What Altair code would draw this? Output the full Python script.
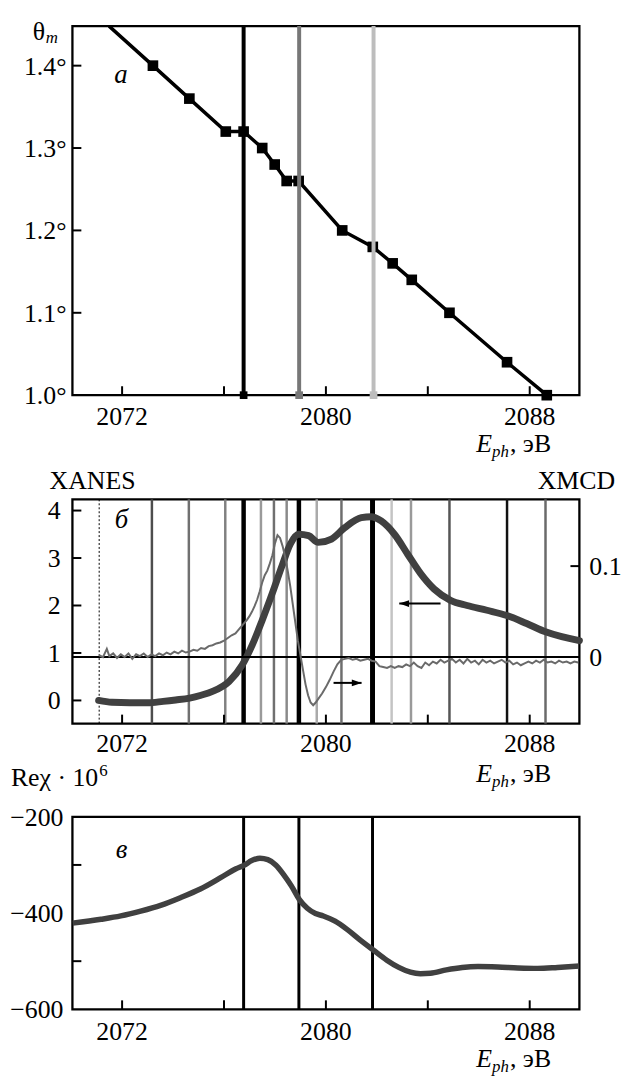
import altair as alt
import pandas as pd

FONT = "Liberation Serif, Times New Roman, Tinos, DejaVu Serif, serif"
FS = 26
W = 511
HA, HB, HC = 372, 226, 194
XDOM = [2070.05, 2089.95]

x_tick_values = [2072, 2076, 2080, 2084, 2088]
x_label_values = [2072, 2080, 2088]
x_label_text = ["2072", "2080", "2088"]

# ---------- panel a: monochromator angle ----------
theta_E = [2071.49, 2073.21, 2074.64, 2076.07, 2076.77, 2077.50, 2077.99, 2078.46,
           2078.93, 2080.64, 2081.84, 2082.62, 2083.37, 2084.85, 2087.11, 2088.67]
theta_deg = [1.448, 1.40, 1.36, 1.32, 1.32, 1.30, 1.28, 1.26,
             1.26, 1.20, 1.18, 1.16, 1.14, 1.10, 1.04, 1.00]
marker_E = theta_E[1:]
marker_deg = theta_deg[1:]
a_sel_E = [2076.77, 2078.95, 2081.87]
a_sel_color = ["#000000", "#777777", "#bdbdbd"]
a_sel_level = [1.0, 1.0, 1.0]
a_ytick_values = [1.1, 1.2, 1.3, 1.4]
a_ylabel_values = [1.0, 1.1, 1.2, 1.3, 1.4]
a_ylabel_text = ["1.0°", "1.1°", "1.2°", "1.3°", "1.4°"]

# ---------- panel b: XANES / XMCD ----------
xanes_E = [2071.08, 2071.6, 2072.31, 2073.0, 2073.61, 2074.1, 2074.65, 2075.1, 2075.55,
           2076.2, 2076.72, 2077.11, 2077.5, 2077.89, 2078.28, 2078.6, 2078.93, 2079.32,
           2079.7, 2080.22, 2080.74, 2081.39, 2081.78, 2082.17, 2082.69, 2083.21, 2083.72,
           2084.24, 2084.89, 2085.54, 2086.32, 2087.1, 2087.88, 2088.65, 2089.95]
xanes_val = [0.0, -0.04, -0.05, -0.05, -0.02, 0.01, 0.05, 0.11, 0.19,
             0.40, 0.75, 1.17, 1.69, 2.25, 2.84, 3.29, 3.50, 3.47,
             3.33, 3.40, 3.64, 3.85, 3.87, 3.78, 3.50, 3.08, 2.67,
             2.35, 2.11, 2.00, 1.90, 1.79, 1.62, 1.44, 1.26]

xmcd_E = [2071.10, 2071.25, 2071.40, 2071.50, 2071.65, 2071.80, 2071.95, 2072.10, 2072.25,
          2072.40, 2072.55, 2072.70, 2072.85, 2073.00, 2073.15, 2073.30, 2073.45, 2073.60,
          2073.75, 2073.90, 2074.05, 2074.20, 2074.35, 2074.50, 2074.65, 2074.80, 2074.95,
          2075.10, 2075.25, 2075.40, 2075.55, 2075.70, 2075.85, 2076.00, 2076.15, 2076.30,
          2076.45, 2076.60, 2076.75, 2076.90, 2077.00, 2077.10, 2077.20, 2077.30, 2077.40,
          2077.50, 2077.60, 2077.70, 2077.80, 2077.90, 2078.00, 2078.10, 2078.20, 2078.30,
          2078.40, 2078.50, 2078.60, 2078.70, 2078.80, 2078.90, 2079.00, 2079.10, 2079.20,
          2079.30, 2079.40, 2079.50, 2079.60, 2079.70, 2079.85, 2080.00, 2080.15, 2080.30,
          2080.45, 2080.60, 2080.75, 2080.90, 2081.05, 2081.20, 2081.35, 2081.50, 2081.65,
          2081.80, 2081.95, 2082.10, 2082.25, 2082.40, 2082.55, 2082.70, 2082.85, 2083.00,
          2083.15, 2083.30, 2083.45, 2083.60, 2083.75, 2083.90, 2084.05, 2084.20, 2084.35,
          2084.50, 2084.65, 2084.80, 2084.95, 2085.10, 2085.25, 2085.40, 2085.55, 2085.70,
          2085.85, 2086.00, 2086.15, 2086.30, 2086.45, 2086.60, 2086.75, 2086.90, 2087.05,
          2087.20, 2087.35, 2087.50, 2087.65, 2087.80, 2087.95, 2088.10, 2088.25, 2088.40,
          2088.55, 2088.70, 2088.85, 2089.00, 2089.15, 2089.30, 2089.45, 2089.60, 2089.75,
          2089.90]
xmcd_val = [0.002, 0.000, 0.009, 0.001, 0.004, -0.001, 0.003, 0.000, 0.004,
            -0.002, 0.003, 0.001, 0.004, 0.000, 0.003, 0.001, 0.004, 0.002,
            0.005, 0.003, 0.006, 0.004, 0.007, 0.005, 0.006, 0.008, 0.007,
            0.010, 0.009, 0.012, 0.013, 0.015, 0.016, 0.018, 0.021, 0.024,
            0.026, 0.031, 0.036, 0.041, 0.045, 0.050, 0.056, 0.063, 0.072,
            0.082, 0.090, 0.095, 0.103, 0.112, 0.125, 0.134, 0.131, 0.122,
            0.110, 0.095, 0.078, 0.058, 0.038, 0.018, 0.002, -0.014, -0.030,
            -0.042, -0.050, -0.053, -0.050, -0.046, -0.040, -0.033, -0.025, -0.016,
            -0.008, -0.003, -0.002, -0.001, -0.003, -0.002, -0.004, -0.003, -0.002,
            -0.004, -0.005, -0.010, -0.011, -0.012, -0.010, -0.012, -0.010, -0.011,
            -0.008, -0.010, -0.006, -0.010, -0.012, -0.006, -0.009, -0.005, -0.007,
            -0.003, -0.006, -0.004, -0.002, -0.006, -0.003, -0.007, -0.002, -0.006,
            -0.004, -0.008, -0.003, -0.006, -0.004, -0.007, -0.005, -0.003, -0.006,
            -0.004, -0.008, -0.006, -0.009, -0.007, -0.005, -0.007, -0.004, -0.006,
            -0.003, -0.006, -0.005, -0.007, -0.004, -0.006, -0.005, -0.007, -0.005,
            -0.006]

vb_E = [2073.17, 2074.62, 2076.05, 2076.77, 2077.45, 2077.96, 2078.46, 2078.94,
        2079.64, 2080.61, 2081.83, 2082.58, 2083.34, 2084.85, 2087.11, 2088.62]
vb_color = ["#4d4d4d", "#707070", "#808080", "#000000", "#9a9a9a", "#707070", "#8a8a8a", "#000000",
            "#aaaaaa", "#6e6e6e", "#000000", "#c4c4c4", "#9a9a9a", "#555555", "#111111", "#6a6a6a"]
vb_width = [2.5, 2.5, 2.5, 4.5, 2.5, 2.5, 2.5, 4.5, 2.5, 2.5, 5, 2.5, 2.5, 2.5, 2.5, 2.5]
vb_dotted_E = [2071.10]

b_left_ticks = [0, 1, 2, 3, 4]
b_left_text = ["0", "1", "2", "3", "4"]
b_right_ticks = [0.1]
b_right_labels = [0, 0.1]
b_right_text = ["0", "0.1"]
xmcd_zero = [0.0]

arrow_start = [2084.5, 2080.3]
arrow_end = [2082.88, 2081.4]
arrow_level = [2.04, 0.37]
arrow_head = ["M0,0L2.2,-0.75L2.2,0.75Z", "M0,0L-2.2,-0.75L-2.2,0.75Z"]

# ---------- panel c: Re chi ----------
rechi_E = [2070.05, 2071.17, 2071.95, 2072.73, 2073.51, 2074.29, 2075.07, 2075.85, 2076.47,
           2076.78, 2077.09, 2077.41, 2077.72, 2078.03, 2078.34, 2078.65, 2078.96, 2079.27,
           2079.59, 2079.90, 2080.36, 2080.83, 2081.30, 2081.84, 2082.39, 2082.86, 2083.32,
           2083.71, 2084.10, 2084.73, 2085.35, 2085.97, 2086.75, 2087.53, 2088.31, 2089.09,
           2089.95]
rechi_val = [-421, -413, -406, -396, -384, -368, -350, -327, -308,
             -301, -291, -286, -289, -300, -320, -344, -372, -390,
             -401, -406, -417, -434, -454, -476, -498, -513, -523,
             -526, -525, -518, -513, -511, -512, -514, -515, -513,
             -510]
vc_E = [2076.77, 2078.94, 2081.83]
c_ytick_values = [-500, -300]
c_ylabel_values = [-600, -400, -200]
c_ylabel_text = ["\u2212600", "\u2212400", "\u2212200"]

# ---------- helpers ----------
XS = alt.Scale(domain=XDOM, nice=False, zero=False)
YA = alt.Scale(domain=[1.0, 1.448], nice=False, zero=False)
YB = alt.Scale(domain=[-0.487, 4.236], nice=False, zero=False)
YR = alt.Scale(domain=[-0.0731, 0.1734], nice=False, zero=False)
YC = alt.Scale(domain=[-600, -200], nice=False, zero=False)


def xnoax():
    return alt.X("E:Q", scale=XS, axis=None)


def xticks(H):
    return alt.Chart(pd.DataFrame({"E": x_tick_values})).mark_rule(
        color="black", strokeWidth=2).encode(x=xnoax(), y=alt.value(H), y2=alt.value(H - 9))


def xlabels(H, off):
    return alt.Chart(pd.DataFrame({"E": x_label_values, "t": x_label_text})).mark_text(
        font=FONT, fontSize=FS, align="center", baseline="alphabetic", color="black").encode(
        x=xnoax(), y=alt.value(H + off), text="t:N")


def yticks(vals, scale, side="left"):
    x0, x1 = (0, 9) if side == "left" else (W, W - 9)
    return alt.Chart(pd.DataFrame({"v": vals})).mark_rule(color="black", strokeWidth=2).encode(
        y=alt.Y("v:Q", scale=scale, axis=None), x=alt.value(x0), x2=alt.value(x1))


def ylabels(vals, texts, scale, xpos, align="right"):
    return alt.Chart(pd.DataFrame({"v": vals, "t": texts})).mark_text(
        font=FONT, fontSize=FS, align=align, baseline="middle", dy=1, color="black").encode(
        y=alt.Y("v:Q", scale=scale, axis=None), x=alt.value(xpos), text="t:N")


def letter(txt, E, v, scale):
    return alt.Chart(pd.DataFrame({"E": [E], "v": [v], "t": [txt]})).mark_text(
        font=FONT, fontSize=27, fontStyle="italic", align="center", baseline="middle",
        color="black").encode(x=xnoax(), y=alt.Y("v:Q", scale=scale, axis=None), text="t:N")


def ptext(txt, x, y, size=FS, style="normal"):
    return alt.Chart(pd.DataFrame({"t": [txt]})).mark_text(
        font=FONT, fontSize=size, fontStyle=style, align="left", baseline="alphabetic",
        color="black").encode(x=alt.value(x), y=alt.value(y), text="t:N")


def eph(base):
    return [ptext("E", 407, base, FS, "italic"),
            ptext("ph", 423, base + 5, 17, "italic"),
            ptext(", эВ", 441, base, FS)]


# ---------- panel a ----------
a_line = alt.Chart(pd.DataFrame({"E": theta_E, "v": theta_deg})).mark_line(
    color="black", strokeWidth=3.5, clip=True).encode(
    x=xnoax(), y=alt.Y("v:Q", scale=YA, axis=None))
a_pts = alt.Chart(pd.DataFrame({"E": marker_E, "v": marker_deg})).mark_square(
    size=115, color="black", opacity=1).encode(x=xnoax(), y=alt.Y("v:Q", scale=YA, axis=None))
df_asel = pd.DataFrame({"E": a_sel_E, "c": a_sel_color, "v": a_sel_level})
a_rules = alt.Chart(df_asel).mark_rule(strokeWidth=4).encode(
    x=xnoax(), color=alt.Color("c:N", scale=None))
a_bsq = alt.Chart(df_asel).mark_square(size=60, opacity=1).encode(
    x=xnoax(), y=alt.Y("v:Q", scale=YA, axis=None), color=alt.Color("c:N", scale=None))

panel_a = alt.layer(
    a_line, a_pts, a_rules, a_bsq, xticks(HA), yticks(a_ytick_values, YA),
    xlabels(HA, 30), ylabels(a_ylabel_values, a_ylabel_text, YA, -6),
    letter("а", 2071.95, 1.389, YA),
    ptext("θ", -40, 14, FS), ptext("m", -27, 17, 17, "italic"),
    *eph(HA + 57)
).properties(width=W, height=HA)

# ---------- panel b ----------
b_dot = alt.Chart(pd.DataFrame({"E": vb_dotted_E})).mark_rule(
    color="black", strokeWidth=1, strokeDash=[2, 2]).encode(x=xnoax())
b_vr = alt.Chart(pd.DataFrame({"E": vb_E, "c": vb_color, "w": vb_width})).mark_rule().encode(
    x=xnoax(), color=alt.Color("c:N", scale=None), strokeWidth=alt.StrokeWidth("w:Q", scale=None))
b_xanes = alt.Chart(pd.DataFrame({"E": xanes_E, "v": xanes_val})).mark_line(
    color="#404040", strokeWidth=7, strokeCap="round", interpolate="monotone").encode(
    x=xnoax(), y=alt.Y("v:Q", scale=YB, axis=None))
df_arr = pd.DataFrame({"E": arrow_start, "E2": arrow_end, "v": arrow_level, "s": arrow_head})
b_arr = alt.Chart(df_arr).mark_rule(color="black", strokeWidth=2).encode(
    x=xnoax(), x2="E2:Q", y=alt.Y("v:Q", scale=YB, axis=None))
b_head = alt.Chart(df_arr).mark_point(filled=True, color="black", opacity=1, size=80).encode(
    x=alt.X("E2:Q", scale=XS, axis=None), y=alt.Y("v:Q", scale=YB, axis=None),
    shape=alt.Shape("s:N", scale=None))

left_b = alt.layer(
    b_dot, b_vr, b_xanes, b_arr, b_head, xticks(HB), yticks(b_left_ticks, YB),
    xlabels(HB, 29), ylabels(b_left_ticks, b_left_text, YB, -12),
    letter("б", 2071.98, 3.80, YB),
    ptext("XANES", -23, -10, FS), ptext("XMCD", 469, -10, FS),
    *eph(HB + 59)
)

b_zero = alt.Chart(pd.DataFrame({"v": xmcd_zero})).mark_rule(color="black", strokeWidth=2).encode(
    y=alt.Y("v:Q", scale=YR, axis=None))
b_xmcd = alt.Chart(pd.DataFrame({"E": xmcd_E, "v": xmcd_val})).mark_line(
    color="#6a6a6a", strokeWidth=2).encode(x=xnoax(), y=alt.Y("v:Q", scale=YR, axis=None))
b_rt = yticks(b_right_ticks, YR, side="right")
b_rl = ylabels(b_right_labels, b_right_text, YR, W + 10, align="left")
right_b = alt.layer(b_zero, b_xmcd, b_rt, b_rl)

panel_b = alt.layer(left_b, right_b).resolve_scale(y="independent").properties(width=W, height=HB)

# ---------- panel c ----------
c_vr = alt.Chart(pd.DataFrame({"E": vc_E})).mark_rule(color="black", strokeWidth=3).encode(x=xnoax())
c_line = alt.Chart(pd.DataFrame({"E": rechi_E, "v": rechi_val})).mark_line(
    color="#404040", strokeWidth=5.5, interpolate="monotone", clip=True).encode(
    x=xnoax(), y=alt.Y("v:Q", scale=YC, axis=None))

panel_c = alt.layer(
    c_vr, c_line, xticks(HC), yticks(c_ytick_values, YC),
    xlabels(HC, 31), ylabels(c_ylabel_values, c_ylabel_text, YC, -9),
    letter("в", 2071.98, -270, YC),
    ptext("Reχ · 10", -62, -31, FS), ptext("6", 27, -41, 17),
    *eph(HC + 58)
).properties(width=W, height=HC)

lower = alt.vconcat(panel_b, panel_c, spacing=94, bounds="flush")
chart = alt.vconcat(panel_a, lower, spacing=105, bounds="flush").properties(
    padding={"left": 9, "top": 13, "right": 5, "bottom": 5},
    background="white"
).configure_view(stroke="black", strokeWidth=2.3)

chart.save("out.html", embed_options={"renderer": "svg", "actions": False})
